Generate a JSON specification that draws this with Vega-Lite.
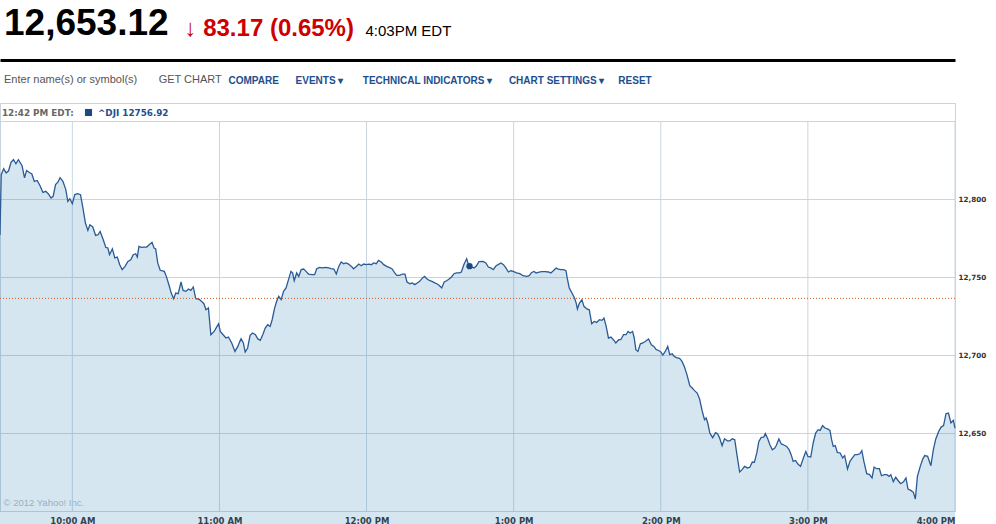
{
  "$schema": "https://vega.github.io/schema/vega-lite/v6.json",
  "width": 955,
  "height": 408,
  "autosize": {"type": "none"},
  "padding": {"left": 0, "top": 103, "right": 41, "bottom": 13},
  "background": "white",
  "title": {
    "text": "12,653.12",
    "subtitle": "Enter name(s) or symbol(s)\u00a0\u00a0\u00a0\u00a0\u00a0\u00a0\u00a0GET CHART",
    "anchor": "start",
    "frame": "group",
    "orient": "top",
    "font": "Liberation Sans",
    "fontSize": 37,
    "fontWeight": "bold",
    "color": "#000000",
    "subtitleFont": "Liberation Sans",
    "subtitleFontSize": 11,
    "subtitleColor": "#555555",
    "subtitlePadding": 31,
    "offset": -69,
    "dx": 4
  },
  "config": {
    "view": {"stroke": "#c6d4de", "strokeWidth": 1},
    "font": "DejaVu Sans"
  },
  "datasets": {
    "hours": [
      {"h":"2012-07-10T10:00:00"},{"h":"2012-07-10T11:00:00"},{"h":"2012-07-10T12:00:00"},{"h":"2012-07-10T13:00:00"},
      {"h":"2012-07-10T14:00:00"},{"h":"2012-07-10T15:00:00"},{"h":"2012-07-10T16:00:00"}
    ],
    "dji": [
      {"t":"2012-07-10T09:30:30","v":12777.0},{"t":"2012-07-10T09:31:00","v":12815.6},{"t":"2012-07-10T09:32:00","v":12819.4},{"t":"2012-07-10T09:33:00","v":12816.7},
      {"t":"2012-07-10T09:34:00","v":12818.1},{"t":"2012-07-10T09:35:00","v":12823.5},{"t":"2012-07-10T09:36:00","v":12825.2},{"t":"2012-07-10T09:37:00","v":12822.6},
      {"t":"2012-07-10T09:38:00","v":12825.2},{"t":"2012-07-10T09:39:30","v":12821.3},{"t":"2012-07-10T09:40:30","v":12813.5},{"t":"2012-07-10T09:41:20","v":12818.3},
      {"t":"2012-07-10T09:42:30","v":12817.0},{"t":"2012-07-10T09:43:30","v":12816.0},{"t":"2012-07-10T09:44:30","v":12811.3},{"t":"2012-07-10T09:45:40","v":12811.9},
      {"t":"2012-07-10T09:46:50","v":12808.5},{"t":"2012-07-10T09:48:00","v":12804.2},{"t":"2012-07-10T09:49:10","v":12804.9},{"t":"2012-07-10T09:50:10","v":12803.4},
      {"t":"2012-07-10T09:51:20","v":12800.6},{"t":"2012-07-10T09:52:10","v":12801.7},{"t":"2012-07-10T09:53:10","v":12809.2},{"t":"2012-07-10T09:54:10","v":12810.9},
      {"t":"2012-07-10T09:55:00","v":12813.7},{"t":"2012-07-10T09:56:10","v":12811.3},{"t":"2012-07-10T09:57:20","v":12806.0},{"t":"2012-07-10T09:58:10","v":12798.5},
      {"t":"2012-07-10T09:59:00","v":12800.2},{"t":"2012-07-10T10:00:00","v":12797.0},{"t":"2012-07-10T10:01:00","v":12802.8},{"t":"2012-07-10T10:02:10","v":12803.4},
      {"t":"2012-07-10T10:03:20","v":12802.8},{"t":"2012-07-10T10:04:20","v":12794.2},{"t":"2012-07-10T10:05:20","v":12784.6},{"t":"2012-07-10T10:06:20","v":12779.9},
      {"t":"2012-07-10T10:07:10","v":12783.5},{"t":"2012-07-10T10:08:20","v":12782.1},{"t":"2012-07-10T10:09:30","v":12776.7},{"t":"2012-07-10T10:10:30","v":12777.1},
      {"t":"2012-07-10T10:11:20","v":12779.2},{"t":"2012-07-10T10:12:30","v":12774.4},{"t":"2012-07-10T10:13:40","v":12769.0},{"t":"2012-07-10T10:14:30","v":12768.6},
      {"t":"2012-07-10T10:15:10","v":12764.3},{"t":"2012-07-10T10:16:20","v":12768.0},{"t":"2012-07-10T10:17:20","v":12762.2},{"t":"2012-07-10T10:18:20","v":12762.8},
      {"t":"2012-07-10T10:19:20","v":12757.9},{"t":"2012-07-10T10:20:20","v":12754.7},{"t":"2012-07-10T10:21:30","v":12756.8},{"t":"2012-07-10T10:22:40","v":12760.0},
      {"t":"2012-07-10T10:23:50","v":12761.1},{"t":"2012-07-10T10:24:50","v":12764.3},{"t":"2012-07-10T10:25:50","v":12764.9},{"t":"2012-07-10T10:26:30","v":12762.8},
      {"t":"2012-07-10T10:27:10","v":12769.6},{"t":"2012-07-10T10:28:10","v":12769.0},{"t":"2012-07-10T10:29:20","v":12769.2},{"t":"2012-07-10T10:30:20","v":12769.2},
      {"t":"2012-07-10T10:31:20","v":12770.7},{"t":"2012-07-10T10:32:30","v":12772.2},{"t":"2012-07-10T10:33:20","v":12768.6},{"t":"2012-07-10T10:34:00","v":12768.0},
      {"t":"2012-07-10T10:34:50","v":12759.0},{"t":"2012-07-10T10:35:50","v":12754.3},{"t":"2012-07-10T10:37:30","v":12753.6},{"t":"2012-07-10T10:38:20","v":12750.4},
      {"t":"2012-07-10T10:39:30","v":12744.4},{"t":"2012-07-10T10:40:20","v":12739.7},{"t":"2012-07-10T10:41:20","v":12736.1},{"t":"2012-07-10T10:42:10","v":12739.7},
      {"t":"2012-07-10T10:43:10","v":12739.3},{"t":"2012-07-10T10:44:20","v":12746.8},{"t":"2012-07-10T10:45:10","v":12741.4},{"t":"2012-07-10T10:46:20","v":12740.8},
      {"t":"2012-07-10T10:47:20","v":12742.3},{"t":"2012-07-10T10:48:20","v":12741.4},{"t":"2012-07-10T10:49:20","v":12743.6},{"t":"2012-07-10T10:50:20","v":12736.1},
      {"t":"2012-07-10T10:51:30","v":12735.9},{"t":"2012-07-10T10:52:40","v":12734.4},{"t":"2012-07-10T10:53:40","v":12732.9},{"t":"2012-07-10T10:54:30","v":12729.0},
      {"t":"2012-07-10T10:55:30","v":12730.1},{"t":"2012-07-10T10:56:30","v":12713.0},{"t":"2012-07-10T10:57:50","v":12715.1},{"t":"2012-07-10T10:58:50","v":12717.9},
      {"t":"2012-07-10T10:59:40","v":12720.1},{"t":"2012-07-10T11:00:20","v":12715.1},{"t":"2012-07-10T11:01:30","v":12713.0},{"t":"2012-07-10T11:02:40","v":12710.9},
      {"t":"2012-07-10T11:03:40","v":12711.5},{"t":"2012-07-10T11:05:00","v":12707.7},{"t":"2012-07-10T11:06:20","v":12702.3},{"t":"2012-07-10T11:07:30","v":12705.5},
      {"t":"2012-07-10T11:08:10","v":12708.1},{"t":"2012-07-10T11:08:50","v":12710.4},{"t":"2012-07-10T11:09:45","v":12707.7},{"t":"2012-07-10T11:10:30","v":12701.9},
      {"t":"2012-07-10T11:11:30","v":12704.5},{"t":"2012-07-10T11:12:30","v":12712.6},{"t":"2012-07-10T11:13:30","v":12714.1},{"t":"2012-07-10T11:14:40","v":12713.0},
      {"t":"2012-07-10T11:15:40","v":12710.3},{"t":"2012-07-10T11:16:40","v":12709.4},{"t":"2012-07-10T11:17:40","v":12713.0},{"t":"2012-07-10T11:18:40","v":12717.3},
      {"t":"2012-07-10T11:19:40","v":12719.4},{"t":"2012-07-10T11:20:40","v":12718.3},{"t":"2012-07-10T11:21:30","v":12722.6},{"t":"2012-07-10T11:22:30","v":12730.1},
      {"t":"2012-07-10T11:23:20","v":12734.4},{"t":"2012-07-10T11:24:10","v":12737.6},{"t":"2012-07-10T11:25:10","v":12735.5},{"t":"2012-07-10T11:26:10","v":12740.8},
      {"t":"2012-07-10T11:27:10","v":12743.0},{"t":"2012-07-10T11:28:10","v":12748.3},{"t":"2012-07-10T11:29:10","v":12753.6},{"t":"2012-07-10T11:29:50","v":12752.6},
      {"t":"2012-07-10T11:30:30","v":12747.6},{"t":"2012-07-10T11:31:30","v":12752.6},{"t":"2012-07-10T11:32:20","v":12750.4},{"t":"2012-07-10T11:33:20","v":12754.7},
      {"t":"2012-07-10T11:34:20","v":12755.1},{"t":"2012-07-10T11:35:20","v":12753.6},{"t":"2012-07-10T11:36:20","v":12751.9},{"t":"2012-07-10T11:37:50","v":12751.5},
      {"t":"2012-07-10T11:38:50","v":12751.5},{"t":"2012-07-10T11:39:40","v":12755.3},{"t":"2012-07-10T11:40:50","v":12756.2},{"t":"2012-07-10T11:41:50","v":12755.8},
      {"t":"2012-07-10T11:43:20","v":12756.2},{"t":"2012-07-10T11:44:30","v":12755.8},{"t":"2012-07-10T11:45:30","v":12755.3},{"t":"2012-07-10T11:46:40","v":12755.1},
      {"t":"2012-07-10T11:47:40","v":12751.9},{"t":"2012-07-10T11:48:40","v":12756.8},{"t":"2012-07-10T11:49:40","v":12759.6},{"t":"2012-07-10T11:50:40","v":12758.5},
      {"t":"2012-07-10T11:51:40","v":12759.0},{"t":"2012-07-10T11:52:40","v":12758.3},{"t":"2012-07-10T11:53:50","v":12756.8},{"t":"2012-07-10T11:54:40","v":12755.3},
      {"t":"2012-07-10T11:55:50","v":12756.8},{"t":"2012-07-10T11:56:50","v":12758.3},{"t":"2012-07-10T11:57:50","v":12757.2},{"t":"2012-07-10T11:58:50","v":12758.3},
      {"t":"2012-07-10T11:59:50","v":12757.9},{"t":"2012-07-10T12:01:00","v":12758.3},{"t":"2012-07-10T12:02:00","v":12757.9},{"t":"2012-07-10T12:02:50","v":12759.0},
      {"t":"2012-07-10T12:04:00","v":12758.5},{"t":"2012-07-10T12:04:50","v":12760.6},{"t":"2012-07-10T12:06:00","v":12759.6},{"t":"2012-07-10T12:07:00","v":12757.9},
      {"t":"2012-07-10T12:08:10","v":12756.8},{"t":"2012-07-10T12:09:10","v":12756.2},{"t":"2012-07-10T12:10:20","v":12755.3},{"t":"2012-07-10T12:11:30","v":12752.6},
      {"t":"2012-07-10T12:12:20","v":12751.0},{"t":"2012-07-10T12:13:30","v":12751.0},{"t":"2012-07-10T12:14:40","v":12751.9},{"t":"2012-07-10T12:15:40","v":12751.9},
      {"t":"2012-07-10T12:16:30","v":12746.8},{"t":"2012-07-10T12:17:40","v":12745.7},{"t":"2012-07-10T12:18:40","v":12746.2},{"t":"2012-07-10T12:19:40","v":12745.1},
      {"t":"2012-07-10T12:20:40","v":12746.2},{"t":"2012-07-10T12:21:40","v":12747.2},{"t":"2012-07-10T12:22:50","v":12749.4},{"t":"2012-07-10T12:23:40","v":12750.4},
      {"t":"2012-07-10T12:24:40","v":12748.7},{"t":"2012-07-10T12:25:50","v":12747.6},{"t":"2012-07-10T12:26:40","v":12747.2},{"t":"2012-07-10T12:27:50","v":12746.2},
      {"t":"2012-07-10T12:28:50","v":12745.5},{"t":"2012-07-10T12:29:40","v":12744.6},{"t":"2012-07-10T12:30:40","v":12743.0},{"t":"2012-07-10T12:31:40","v":12746.8},
      {"t":"2012-07-10T12:32:40","v":12747.6},{"t":"2012-07-10T12:33:40","v":12748.7},{"t":"2012-07-10T12:34:40","v":12750.0},{"t":"2012-07-10T12:35:40","v":12752.1},
      {"t":"2012-07-10T12:36:40","v":12752.6},{"t":"2012-07-10T12:37:50","v":12752.6},{"t":"2012-07-10T12:38:40","v":12753.2},{"t":"2012-07-10T12:39:40","v":12757.9},
      {"t":"2012-07-10T12:40:50","v":12761.7},{"t":"2012-07-10T12:41:40","v":12757.4},{"t":"2012-07-10T12:42:00","v":12756.92},{"t":"2012-07-10T12:43:50","v":12755.8},
      {"t":"2012-07-10T12:44:50","v":12757.2},{"t":"2012-07-10T12:45:50","v":12759.8},{"t":"2012-07-10T12:47:30","v":12760.0},{"t":"2012-07-10T12:48:40","v":12759.0},
      {"t":"2012-07-10T12:49:40","v":12756.4},{"t":"2012-07-10T12:50:40","v":12755.8},{"t":"2012-07-10T12:51:40","v":12754.7},{"t":"2012-07-10T12:52:50","v":12757.2},
      {"t":"2012-07-10T12:53:40","v":12757.9},{"t":"2012-07-10T12:54:50","v":12759.0},{"t":"2012-07-10T12:55:50","v":12757.9},{"t":"2012-07-10T12:56:50","v":12755.8},
      {"t":"2012-07-10T12:57:50","v":12753.2},{"t":"2012-07-10T12:58:50","v":12754.0},{"t":"2012-07-10T12:59:50","v":12753.6},{"t":"2012-07-10T13:01:10","v":12752.6},
      {"t":"2012-07-10T13:02:30","v":12752.1},{"t":"2012-07-10T13:03:50","v":12750.8},{"t":"2012-07-10T13:05:20","v":12750.4},{"t":"2012-07-10T13:06:20","v":12750.8},
      {"t":"2012-07-10T13:07:20","v":12752.9},{"t":"2012-07-10T13:08:20","v":12753.6},{"t":"2012-07-10T13:09:10","v":12752.6},{"t":"2012-07-10T13:10:00","v":12752.9},
      {"t":"2012-07-10T13:11:20","v":12753.4},{"t":"2012-07-10T13:12:50","v":12753.4},{"t":"2012-07-10T13:14:10","v":12753.2},{"t":"2012-07-10T13:15:10","v":12752.6},
      {"t":"2012-07-10T13:16:10","v":12754.0},{"t":"2012-07-10T13:17:20","v":12755.8},{"t":"2012-07-10T13:18:10","v":12755.1},{"t":"2012-07-10T13:19:10","v":12754.7},
      {"t":"2012-07-10T13:20:20","v":12754.7},{"t":"2012-07-10T13:21:20","v":12754.0},{"t":"2012-07-10T13:21:50","v":12749.4},{"t":"2012-07-10T13:22:40","v":12743.0},
      {"t":"2012-07-10T13:23:40","v":12740.1},{"t":"2012-07-10T13:24:50","v":12736.5},{"t":"2012-07-10T13:25:30","v":12733.3},{"t":"2012-07-10T13:26:00","v":12729.5},
      {"t":"2012-07-10T13:26:50","v":12733.3},{"t":"2012-07-10T13:27:50","v":12735.5},{"t":"2012-07-10T13:28:40","v":12731.2},{"t":"2012-07-10T13:29:50","v":12729.5},
      {"t":"2012-07-10T13:30:50","v":12729.0},{"t":"2012-07-10T13:31:50","v":12720.1},{"t":"2012-07-10T13:32:50","v":12721.5},{"t":"2012-07-10T13:33:50","v":12720.9},
      {"t":"2012-07-10T13:35:00","v":12722.6},{"t":"2012-07-10T13:36:00","v":12722.2},{"t":"2012-07-10T13:36:50","v":12723.7},{"t":"2012-07-10T13:37:40","v":12718.8},
      {"t":"2012-07-10T13:38:40","v":12710.9},{"t":"2012-07-10T13:39:40","v":12711.5},{"t":"2012-07-10T13:40:40","v":12709.8},{"t":"2012-07-10T13:41:40","v":12707.7},
      {"t":"2012-07-10T13:42:50","v":12709.8},{"t":"2012-07-10T13:43:40","v":12709.8},{"t":"2012-07-10T13:44:50","v":12713.0},{"t":"2012-07-10T13:45:50","v":12713.0},
      {"t":"2012-07-10T13:46:40","v":12715.1},{"t":"2012-07-10T13:47:30","v":12714.1},{"t":"2012-07-10T13:48:30","v":12715.1},{"t":"2012-07-10T13:49:10","v":12710.9},
      {"t":"2012-07-10T13:49:50","v":12703.4},{"t":"2012-07-10T13:50:40","v":12702.3},{"t":"2012-07-10T13:51:40","v":12707.2},{"t":"2012-07-10T13:52:40","v":12707.7},
      {"t":"2012-07-10T13:53:40","v":12708.7},{"t":"2012-07-10T13:55:00","v":12710.3},{"t":"2012-07-10T13:56:10","v":12706.6},{"t":"2012-07-10T13:57:10","v":12705.5},
      {"t":"2012-07-10T13:58:10","v":12703.4},{"t":"2012-07-10T13:59:10","v":12702.9},{"t":"2012-07-10T14:00:10","v":12701.7},{"t":"2012-07-10T14:00:50","v":12700.0},
      {"t":"2012-07-10T14:01:50","v":12702.3},{"t":"2012-07-10T14:02:50","v":12705.5},{"t":"2012-07-10T14:03:40","v":12700.2},{"t":"2012-07-10T14:04:40","v":12700.8},
      {"t":"2012-07-10T14:05:30","v":12699.1},{"t":"2012-07-10T14:06:40","v":12698.1},{"t":"2012-07-10T14:07:40","v":12697.8},{"t":"2012-07-10T14:08:40","v":12695.9},
      {"t":"2012-07-10T14:09:40","v":12692.3},{"t":"2012-07-10T14:10:40","v":12687.4},{"t":"2012-07-10T14:11:50","v":12680.3},{"t":"2012-07-10T14:12:50","v":12678.8},
      {"t":"2012-07-10T14:13:40","v":12677.3},{"t":"2012-07-10T14:14:50","v":12675.6},{"t":"2012-07-10T14:15:50","v":12671.8},{"t":"2012-07-10T14:16:50","v":12664.5},
      {"t":"2012-07-10T14:17:50","v":12658.5},{"t":"2012-07-10T14:18:30","v":12659.6},{"t":"2012-07-10T14:19:10","v":12656.4},{"t":"2012-07-10T14:20:00","v":12650.0},
      {"t":"2012-07-10T14:21:10","v":12647.0},{"t":"2012-07-10T14:22:20","v":12650.2},{"t":"2012-07-10T14:23:10","v":12649.5},{"t":"2012-07-10T14:24:00","v":12646.8},
      {"t":"2012-07-10T14:25:00","v":12641.9},{"t":"2012-07-10T14:26:00","v":12646.3},{"t":"2012-07-10T14:27:10","v":12645.0},{"t":"2012-07-10T14:28:10","v":12645.0},
      {"t":"2012-07-10T14:29:10","v":12646.3},{"t":"2012-07-10T14:30:10","v":12645.7},{"t":"2012-07-10T14:31:10","v":12635.0},{"t":"2012-07-10T14:32:10","v":12625.0},
      {"t":"2012-07-10T14:33:10","v":12626.5},{"t":"2012-07-10T14:34:10","v":12628.6},{"t":"2012-07-10T14:35:20","v":12627.6},{"t":"2012-07-10T14:36:20","v":12628.0},
      {"t":"2012-07-10T14:37:20","v":12631.4},{"t":"2012-07-10T14:38:10","v":12631.2},{"t":"2012-07-10T14:39:10","v":12637.2},{"t":"2012-07-10T14:40:00","v":12644.6},
      {"t":"2012-07-10T14:41:00","v":12647.2},{"t":"2012-07-10T14:42:00","v":12647.4},{"t":"2012-07-10T14:42:40","v":12649.6},{"t":"2012-07-10T14:43:40","v":12646.2},
      {"t":"2012-07-10T14:44:30","v":12642.5},{"t":"2012-07-10T14:45:30","v":12639.3},{"t":"2012-07-10T14:46:30","v":12640.4},{"t":"2012-07-10T14:47:10","v":12642.1},
      {"t":"2012-07-10T14:48:10","v":12646.2},{"t":"2012-07-10T14:49:10","v":12643.0},{"t":"2012-07-10T14:50:10","v":12642.3},{"t":"2012-07-10T14:51:20","v":12641.4},
      {"t":"2012-07-10T14:52:20","v":12639.3},{"t":"2012-07-10T14:53:10","v":12636.1},{"t":"2012-07-10T14:54:00","v":12631.8},{"t":"2012-07-10T14:55:00","v":12632.4},
      {"t":"2012-07-10T14:55:50","v":12630.3},{"t":"2012-07-10T14:57:00","v":12628.6},{"t":"2012-07-10T14:58:10","v":12634.0},{"t":"2012-07-10T14:59:10","v":12638.2},
      {"t":"2012-07-10T15:00:00","v":12635.0},{"t":"2012-07-10T15:01:10","v":12634.6},{"t":"2012-07-10T15:02:10","v":12643.6},{"t":"2012-07-10T15:03:10","v":12650.0},
      {"t":"2012-07-10T15:04:10","v":12652.1},{"t":"2012-07-10T15:05:00","v":12651.7},{"t":"2012-07-10T15:06:00","v":12654.7},{"t":"2012-07-10T15:07:00","v":12653.2},
      {"t":"2012-07-10T15:08:00","v":12652.6},{"t":"2012-07-10T15:09:00","v":12651.7},{"t":"2012-07-10T15:09:40","v":12645.7},{"t":"2012-07-10T15:10:20","v":12641.4},
      {"t":"2012-07-10T15:11:10","v":12641.9},{"t":"2012-07-10T15:12:00","v":12637.6},{"t":"2012-07-10T15:13:10","v":12637.2},{"t":"2012-07-10T15:14:10","v":12634.0},
      {"t":"2012-07-10T15:15:00","v":12635.5},{"t":"2012-07-10T15:16:10","v":12626.9},{"t":"2012-07-10T15:17:10","v":12631.8},{"t":"2012-07-10T15:18:10","v":12634.0},
      {"t":"2012-07-10T15:19:10","v":12636.1},{"t":"2012-07-10T15:20:10","v":12636.1},{"t":"2012-07-10T15:21:10","v":12636.7},{"t":"2012-07-10T15:22:00","v":12638.7},
      {"t":"2012-07-10T15:22:50","v":12631.8},{"t":"2012-07-10T15:24:00","v":12623.9},{"t":"2012-07-10T15:25:10","v":12623.3},{"t":"2012-07-10T15:26:10","v":12621.2},
      {"t":"2012-07-10T15:27:00","v":12628.2},{"t":"2012-07-10T15:28:00","v":12627.1},{"t":"2012-07-10T15:29:10","v":12627.1},{"t":"2012-07-10T15:30:00","v":12622.6},
      {"t":"2012-07-10T15:31:10","v":12623.3},{"t":"2012-07-10T15:32:10","v":12623.3},{"t":"2012-07-10T15:33:10","v":12622.2},{"t":"2012-07-10T15:33:50","v":12623.3},
      {"t":"2012-07-10T15:34:50","v":12618.8},{"t":"2012-07-10T15:35:50","v":12621.6},{"t":"2012-07-10T15:36:50","v":12619.4},{"t":"2012-07-10T15:37:50","v":12617.5},
      {"t":"2012-07-10T15:39:00","v":12618.7},{"t":"2012-07-10T15:40:00","v":12621.2},{"t":"2012-07-10T15:40:50","v":12614.1},{"t":"2012-07-10T15:42:00","v":12613.2},
      {"t":"2012-07-10T15:43:00","v":12612.0},{"t":"2012-07-10T15:43:50","v":12607.7},{"t":"2012-07-10T15:44:40","v":12622.2},{"t":"2012-07-10T15:45:50","v":12628.6},
      {"t":"2012-07-10T15:46:50","v":12633.3},{"t":"2012-07-10T15:47:40","v":12635.5},{"t":"2012-07-10T15:48:50","v":12635.0},{"t":"2012-07-10T15:50:10","v":12629.0},
      {"t":"2012-07-10T15:51:10","v":12639.3},{"t":"2012-07-10T15:52:10","v":12646.2},{"t":"2012-07-10T15:53:20","v":12651.0},{"t":"2012-07-10T15:54:20","v":12653.8},
      {"t":"2012-07-10T15:55:20","v":12654.7},{"t":"2012-07-10T15:56:20","v":12662.4},{"t":"2012-07-10T15:57:20","v":12662.8},{"t":"2012-07-10T15:58:20","v":12656.4},
      {"t":"2012-07-10T15:59:20","v":12658.1},{"t":"2012-07-10T16:00:00","v":12653.12}
    ],
    "marker": [{"t":"2012-07-10T12:42:00","v":12756.92,"series":"^DJI 12756.92"}],
    "prevclose": [{"pc":12736.29}]
  },
  "layer": [
    {
      "data": {"name": "hours"},
      "mark": {"type": "rule", "color": "#c8d6e0", "strokeWidth": 1},
      "encoding": {
        "x": {"field": "h", "type": "temporal", "axis": null},
        "y": {"datum": 12600, "type": "quantitative", "axis": null},
        "y2": {"datum": 12850}
      }
    },
    {
      "data": {"name": "dji"},
      "mark": {"type": "area", "color": "#3282b9", "fillOpacity": 0.2},
      "encoding": {
        "x": {
          "field": "t", "type": "temporal",
          "scale": {"domain": [{"year":2012,"month":7,"date":10,"hours":9,"minutes":30,"seconds":30},{"year":2012,"month":7,"date":10,"hours":16}]},
          "axis": {
            "orient": "bottom", "tickCount": 7, "format": "%-I:%M %p",
            "grid": false, "domain": false, "ticks": false,
            "labelFont": "DejaVu Sans", "labelFontWeight": "bold", "labelFontSize": 8.5, "labelColor": "#333333",
            "labelPadding": 5, "labelFlush": true,
            "title": "© 2012 Yahoo! Inc.", "titleX": 3, "titleY": -5.5, "titleAlign": "left", "titleBaseline": "alphabetic",
            "titleFont": "Liberation Sans", "titleFontSize": 9.5, "titleFontWeight": "normal", "titleColor": "#b4bcc4"
          }
        },
        "y": {
          "field": "v", "type": "quantitative",
          "scale": {"domain": [12600, 12850], "range": [408, 18], "zero": false, "nice": false},
          "axis": {
            "orient": "right", "values": [12600, 12650, 12700, 12750, 12800, 12850], "format": ",d",
            "labelExpr": "datum.value == 12600 || datum.value == 12850 ? '' : datum.label",
            "grid": true, "gridColor": "#c8d6e0", "gridWidth": 1, "domain": false, "ticks": false,
            "labelFont": "DejaVu Sans", "labelFontWeight": "bold", "labelFontSize": 7.2, "labelColor": "#333333", "labelPadding": 3,
            "title": "COMPARE\u00a0\u00a0\u00a0\u00a0\u00a0\u00a0EVENTS\u00a0▾\u00a0\u00a0\u00a0\u00a0\u00a0\u00a0\u00a0TECHNICAL INDICATORS\u00a0▾\u00a0\u00a0\u00a0\u00a0\u00a0\u00a0CHART SETTINGS\u00a0▾\u00a0\u00a0\u00a0\u00a0\u00a0RESET",
            "titleX": -727, "titleY": -19.7, "titleAngle": 0, "titleAlign": "left", "titleBaseline": "alphabetic",
            "titleFont": "Liberation Sans", "titleFontSize": 10, "titleFontWeight": "bold", "titleColor": "#1d4f8e"
          }
        }
      }
    },
    {
      "data": {"name": "dji"},
      "mark": {"type": "line", "color": "#2a5b95", "strokeWidth": 1.3},
      "encoding": {
        "x": {"field": "t", "type": "temporal", "axis": null},
        "y": {"field": "v", "type": "quantitative", "axis": null}
      }
    },
    {
      "data": {"name": "prevclose"},
      "mark": {"type": "rule", "color": "#d2581e", "strokeDash": [1, 2], "strokeWidth": 1},
      "encoding": {
        "y": {
          "field": "pc", "type": "quantitative",
          "axis": {
            "orient": "left", "labels": false, "ticks": false, "domain": false, "grid": false,
            "title": "4:03PM EDT", "titleAngle": 0, "titleX": 365, "titleY": -67.5, "titleAlign": "left", "titleBaseline": "alphabetic",
            "titleFont": "Liberation Sans", "titleFontSize": 15, "titleFontWeight": "normal", "titleColor": "#000000"
          }
        }
      }
    },
    {
      "data": {"name": "marker"},
      "mark": {"type": "point", "filled": true, "size": 40, "opacity": 1},
      "encoding": {
        "x": {
          "field": "t", "type": "temporal",
          "axis": {
            "orient": "top", "offset": 43, "labels": false, "ticks": false, "grid": false,
            "domain": true, "domainColor": "#000000", "domainWidth": 3,
            "title": "↓\u00a083.17 (0.65%)", "titleX": 184, "titleY": -24.5, "titleAlign": "left", "titleBaseline": "alphabetic",
            "titleFont": "Liberation Sans", "titleFontSize": 24, "titleFontWeight": "bold", "titleColor": "#cc0000"
          }
        },
        "y": {"field": "v", "type": "quantitative", "axis": null},
        "color": {
          "field": "series", "type": "nominal",
          "scale": {"range": ["#1b4a82"]},
          "legend": {
            "orient": "none", "legendX": 2, "legendY": 5, "direction": "horizontal",
            "title": "12:42 PM EDT:", "titleOrient": "left", "titlePadding": 10,
            "titleFont": "DejaVu Sans", "titleFontSize": 8.8, "titleFontWeight": "bold", "titleColor": "#666666",
            "labelFont": "DejaVu Sans", "labelFontSize": 8.8, "labelFontWeight": "bold", "labelColor": "#1d4f8e", "labelOffset": 5,
            "symbolType": "square", "symbolSize": 50, "padding": 0
          }
        }
      }
    }
  ],
  "resolve": {"axis": {"x": "independent", "y": "independent"}}
}
